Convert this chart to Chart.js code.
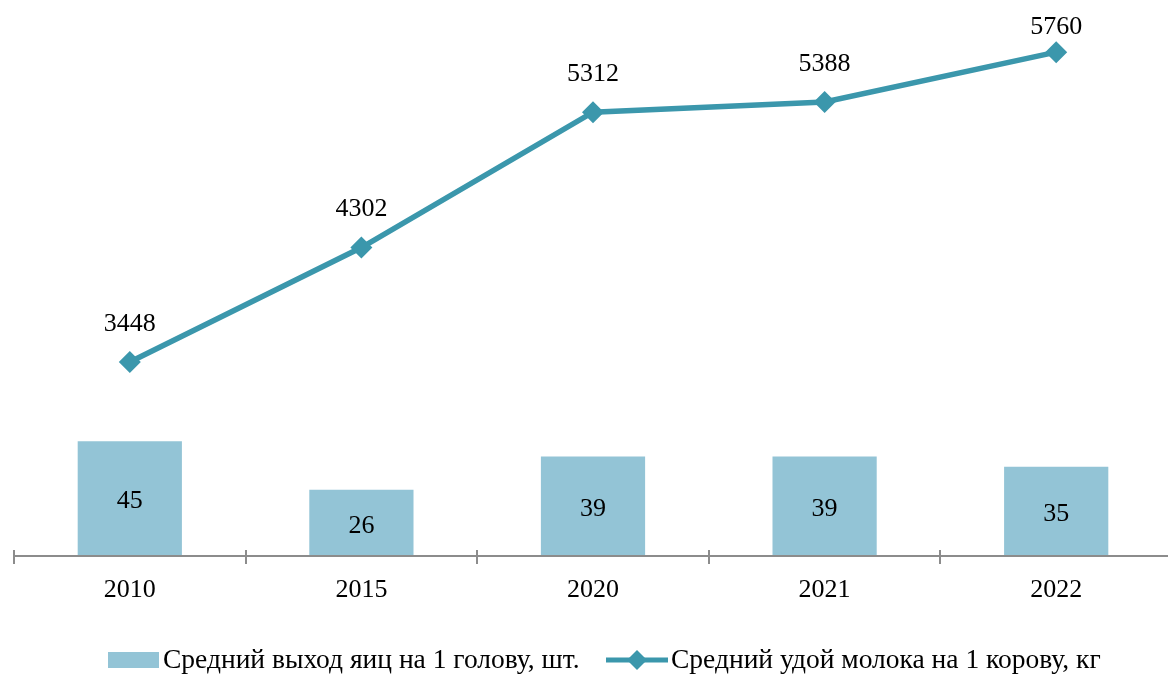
<!DOCTYPE html>
<html>
<head>
<meta charset="utf-8">
<script src="https://cdn.jsdelivr.net/npm/chart.js@4.4.1/dist/chart.umd.min.js"></script>
<style>
  html, body { margin: 0; padding: 0; background: #fff; overflow: hidden; }
  #wrap { position: relative; width: 1172px; height: 675px; }
  #chart { display: block; width: 1172px; height: 675px; }
</style>
</head>
<body>
<div id="wrap"><canvas id="chart" width="1172" height="675"></canvas></div>
<script>
"use strict";

// data
let years = ["2010", "2015", "2020", "2021", "2022"];
let eggsPerHen = [45, 26, 39, 39, 35];
let milkPerCow = [3448, 4302, 5312, 5388, 5760];
let eggsLabel = "Средний выход яиц на 1 голову, шт.";
let milkLabel = "Средний удой молока на 1 корову, кг";

let barColor = "#93c4d6";
let lineColor = "#3b97ac";
let fontFamily = "'Liberation Serif', 'Times New Roman', serif";

// axis line with ticks crossing it, value labels, legend
let decorPlugin = {
  id: "decor",
  afterDatasetsDraw(chart) {
    let ctx = chart.ctx;
    let area = chart.chartArea;
    let step = (area.right - area.left) / years.length;

    ctx.save();
    ctx.strokeStyle = "#8c8c8c";
    ctx.lineWidth = 2;
    ctx.beginPath();
    ctx.moveTo(area.left, area.bottom);
    ctx.lineTo(area.right, area.bottom);
    for (let i = 0; i <= years.length; i++) {
      let x = Math.round(area.left + i * step);
      ctx.moveTo(x, area.bottom - 6);
      ctx.lineTo(x, area.bottom + 8);
    }
    ctx.stroke();

    ctx.fillStyle = "#000";
    ctx.font = "26px " + fontFamily;
    ctx.textAlign = "center";
    ctx.textBaseline = "middle";

    let bars = chart.getDatasetMeta(0).data;
    bars.forEach(function (bar, i) {
      ctx.fillText(String(eggsPerHen[i]), bar.x, (bar.y + bar.base) / 2 + 3);
    });

    let points = chart.getDatasetMeta(1).data;
    points.forEach(function (pt, i) {
      let y = Math.max(pt.y - 38, 27);
      ctx.fillText(String(milkPerCow[i]), pt.x, y);
    });

    // legend
    let ly = 660;
    ctx.fillStyle = barColor;
    ctx.fillRect(108, ly - 8, 51, 16);
    ctx.fillStyle = "#000";
    ctx.textAlign = "left";
    ctx.font = "27.5px " + fontFamily;
    ctx.fillText(eggsLabel, 163, ly + 1);

    ctx.strokeStyle = lineColor;
    ctx.lineWidth = 5;
    ctx.beginPath();
    ctx.moveTo(606, ly);
    ctx.lineTo(668, ly);
    ctx.stroke();
    ctx.fillStyle = lineColor;
    ctx.beginPath();
    ctx.moveTo(637, ly - 10);
    ctx.lineTo(647, ly);
    ctx.lineTo(637, ly + 10);
    ctx.lineTo(627, ly);
    ctx.closePath();
    ctx.fill();
    ctx.fillStyle = "#000";
    ctx.fillText(milkLabel, 671, ly + 1);
    ctx.restore();
  }
};

let chart = new Chart(document.getElementById("chart"), {
  data: {
    labels: years,
    datasets: [
      {
        type: "bar",
        label: eggsLabel,
        data: eggsPerHen,
        backgroundColor: barColor,
        barPercentage: 0.45,
        categoryPercentage: 1,
        yAxisID: "yBar",
        order: 2
      },
      {
        type: "line",
        label: milkLabel,
        data: milkPerCow,
        borderColor: lineColor,
        backgroundColor: lineColor,
        borderWidth: 5.5,
        pointStyle: "rectRot",
        pointRadius: 11,
        pointBorderWidth: 0,
        tension: 0,
        clip: false,
        yAxisID: "yLine",
        order: 1
      }
    ]
  },
  options: {
    responsive: false,
    animation: false,
    devicePixelRatio: 1,
    layout: { autoPadding: false, padding: { left: 14, right: 0, top: 20, bottom: 0 } },
    plugins: {
      legend: { display: false },
      tooltip: { enabled: false }
    },
    scales: {
      x: {
        offset: true,
        grid: { display: false },
        border: { display: false },
        ticks: {
          color: "#000",
          font: { family: fontFamily, size: 26 },
          padding: 11
        },
        afterFit(scale) { scale.height = 119; }
      },
      yBar: {
        display: false,
        min: 0,
        max: 210
      },
      yLine: {
        display: false,
        min: 2000,
        max: 6000
      }
    }
  },
  plugins: [decorPlugin]
});
</script>
</body>
</html>
